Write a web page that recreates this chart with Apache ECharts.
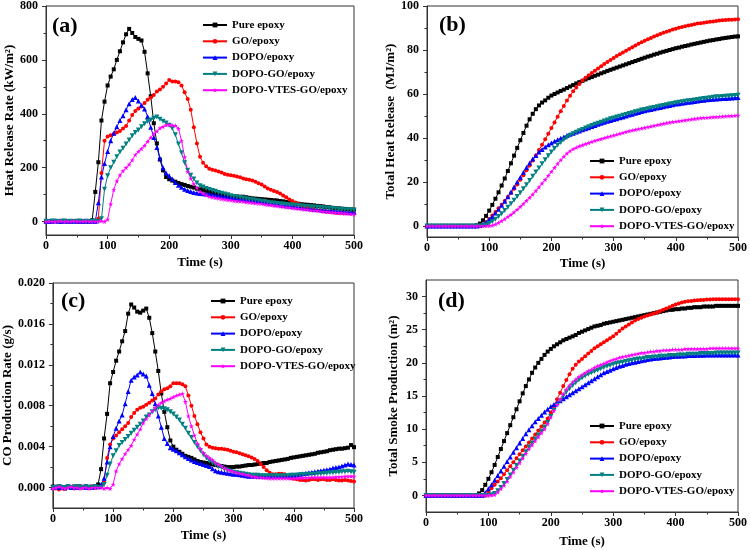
<!DOCTYPE html>
<html><head><meta charset="utf-8">
<script src="https://cdn.jsdelivr.net/npm/echarts@6/dist/echarts.min.js"></script>
<style>html,body{margin:0;padding:0;background:#fff}#c{width:750px;height:550px}</style>
</head><body><div id="c"></div>
<script>
const FONT = '"Liberation Serif","Times New Roman",serif';
const time = [0,5,10,15,20,25,30,35,40,45,50,55,60,65,70,75,80,85,90,95,
100,105,110,115,120,125,130,135,140,145,150,155,160,165,170,175,180,185,190,195,
200,205,210,215,220,225,230,235,240,245,250,255,260,265,270,275,280,285,290,295,
300,305,310,315,320,325,330,335,340,345,350,355,360,365,370,375,380,385,390,395,
400,405,410,415,420,425,430,435,440,445,450,455,460,465,470,475,480,485,490,495,500];
const seriesNames = ['Pure epoxy','GO/epoxy','DOPO/epoxy','DOPO-GO/epoxy','DOPO-VTES-GO/epoxy'];

// (a) Heat release rate, kW/m2
const hrrPure = [0,1,0,2,1,0,1,0,1,2,
0,1,0,1,2,5,110,220,375,445,
505,538,565,600,632,665,695,715,700,685,
678,672,630,550,465,365,290,230,190,165,
157,152,148,143,139,136,132,129,126,122,
120,117,114,110,106,102,100,98,96,95,
94,93,93,92,92,90,88,86,85,84,
83,82,81,80,79,78,76,75,73,71,
69,67,66,64,63,62,61,60,58,57,
56,54,53,51,50,49,48,47,46,45,44];
const hrrGO = [0,2,1,0,1,3,0,1,2,1,
0,1,2,0,1,2,1,10,180,300,
316,320,325,330,336,345,355,375,395,410,
420,427,440,452,460,470,483,490,500,512,
525,520,520,517,505,480,455,415,350,290,
240,218,205,196,192,189,186,182,176,174,
172,170,167,164,160,157,155,152,148,142,
137,130,123,118,113,110,104,97,90,82,
76,71,65,59,55,52,48,44,42,40,
38,36,35,34,33,32,32,31,31,30,30];
const hrrDOPO = [2,0,1,3,1,0,2,1,0,1,
2,0,1,2,0,1,0,70,165,215,
260,300,328,352,375,393,415,437,453,460,
447,432,418,390,350,312,275,235,200,180,
170,158,145,135,127,120,115,111,108,106,
104,103,102,101,99,98,97,95,94,92,
90,88,86,84,82,80,78,77,76,75,
73,71,70,68,66,64,62,60,59,58,
57,55,53,52,50,49,47,46,45,44,
43,42,41,40,39,38,37,36,35,35,34];
const hrrDOPOGO = [1,0,2,1,0,1,2,0,1,0,
1,2,0,1,0,2,1,0,10,120,
170,200,220,240,258,272,288,303,318,330,
340,352,363,372,377,383,388,380,372,366,
357,345,322,288,255,218,190,172,158,143,
133,128,123,119,115,112,108,105,102,99,
96,93,91,89,87,85,83,81,79,77,
75,74,72,70,69,67,66,65,63,62,
61,60,59,58,57,56,55,54,53,52,
51,50,49,48,47,46,45,44,44,43,42];
const hrrVTES = [0,1,0,0,2,1,0,1,0,2,
1,0,1,2,0,1,0,1,2,0,
8,65,118,150,172,188,200,212,228,248,
260,270,282,297,312,325,335,347,352,358,
360,357,356,345,300,240,185,160,140,125,
112,104,98,93,90,88,86,84,82,80,
79,77,76,75,74,72,71,70,68,67,
66,64,62,61,59,58,56,55,53,52,
50,49,48,46,45,44,42,41,40,39,
37,36,35,34,33,32,31,30,29,28,27];

// (b) Total heat release, MJ/m2
const thrPure = [0,0,0,0,0,0,0,0,0,0,
0,0,0,0,0,0,0.3,1.1,2.6,4.6,
7,9.6,12.4,15.3,18.4,21.6,25,28.5,32,35.5,
39,42.3,45.6,48.5,51,53.1,54.8,56.1,57.1,58.3,
59.3,60,60.7,61.4,62,62.7,63.4,64.1,64.8,65.4,
66,66.6,67.2,67.7,68.3,68.8,69.4,69.9,70.5,71,
71.5,72,72.5,73,73.5,74,74.5,75,75.5,76,
76.5,77,77.4,77.9,78.3,78.8,79.2,79.6,80,80.4,
80.8,81.1,81.5,81.8,82.1,82.5,82.8,83.1,83.4,83.7,
84,84.3,84.5,84.8,85,85.3,85.5,85.7,85.9,86.1,86.2];
const thrGO = [0,0,0,0,0,0,0,0,0,0,
0,0,0,0,0,0,0,0,0.5,1.7,
3.2,4.8,6.4,8.1,9.7,11.4,13.2,15,16.9,18.9,
21,23.1,25.3,27.5,29.8,32.1,34.5,36.9,39.4,41.9,
44.5,47.1,49.7,52.2,54.6,57,59.2,61.2,63,64.6,
66.1,67.4,68.5,69.6,70.6,71.6,72.6,73.6,74.6,75.5,
76.4,77.3,78.1,78.9,79.7,80.5,81.3,82.1,82.8,83.5,
84.2,84.9,85.5,86.1,86.7,87.3,87.8,88.3,88.8,89.3,
89.7,90.1,90.5,90.8,91.1,91.4,91.7,92,92.2,92.4,
92.6,92.8,93,93.2,93.4,93.5,93.6,93.7,93.8,93.9,94];
const thrDOPO = [0,0,0,0,0,0,0,0,0,0,
0,0,0,0,0,0,0,0.2,0.8,1.7,
2.9,4.3,5.9,7.6,9.4,11.3,13.3,15.5,17.7,20,
22.2,24.4,26.6,28.6,30.4,32.1,33.6,34.8,35.9,36.9,
37.7,38.5,39.2,39.9,40.5,41.1,41.7,42.2,42.7,43.2,
43.7,44.2,44.7,45.2,45.7,46.2,46.7,47.2,47.6,48,
48.4,48.8,49.2,49.6,50,50.4,50.8,51.2,51.6,52,
52.4,52.7,53,53.3,53.6,53.9,54.2,54.5,54.8,55.1,
55.4,55.6,55.8,56,56.2,56.4,56.6,56.8,57,57.2,
57.4,57.5,57.6,57.7,57.8,57.9,58,58.1,58.2,58.3,58.4];
const thrDOPOGO = [0,0,0,0,0,0,0,0,0,0,
0,0,0,0,0,0,0,0,0.1,0.4,
1.1,2,3.1,4.3,5.6,7,8.5,10.1,11.7,13.4,
15.1,16.9,18.8,20.7,22.6,24.5,26.4,28.3,30.1,31.9,
33.6,35.2,36.7,38,39.2,40.2,41.1,41.9,42.6,43.3,
43.9,44.5,45.1,45.7,46.2,46.7,47.2,47.7,48.2,48.7,
49.1,49.5,49.9,50.3,50.7,51.1,51.5,51.9,52.3,52.7,
53,53.3,53.6,53.9,54.2,54.5,54.8,55.1,55.4,55.7,
56,56.3,56.5,56.7,56.9,57.1,57.3,57.5,57.7,57.9,
58.1,58.3,58.5,58.7,58.8,58.9,59,59.1,59.2,59.3,59.4];
const thrVTES = [0,0,0,0,0,0,0,0,0,0,
0,0,0,0,0,0,0,0,0,0,
0.1,0.3,0.8,1.5,2.3,3.2,4.2,5.2,6.3,7.5,
8.8,10.1,11.5,12.9,14.4,16,17.7,19.4,21.1,22.9,
24.7,26.5,28.3,30,31.6,33,34.1,35,35.7,36.3,
36.8,37.3,37.8,38.3,38.8,39.2,39.6,40,40.4,40.8,
41.2,41.6,42,42.4,42.8,43.2,43.5,43.8,44.1,44.4,
44.7,45,45.3,45.6,45.9,46.2,46.5,46.8,47.1,47.3,
47.5,47.7,47.9,48.1,48.3,48.5,48.7,48.9,49.1,49.2,
49.3,49.4,49.5,49.6,49.7,49.8,49.9,50,50.1,50.2,50.3];

// (c) CO production rate, g/s
const coPure = [0.0001,0,0.0001,0,-0.0001,0.0001,0,0.0001,0,0.0001,
0,0.0001,0,0.0001,0,0.0003,0.0018,0.0048,0.0072,0.0102,
0.0113,0.0124,0.0133,0.0143,0.0153,0.017,0.0179,0.0176,0.0172,0.0171,
0.0173,0.0175,0.0166,0.0151,0.0133,0.0114,0.0092,0.0074,0.0059,0.0046,
0.004,0.0037,0.0035,0.0033,0.0031,0.003,0.0029,0.00275,0.0026,0.0025,
0.00245,0.0024,0.0023,0.00225,0.0022,0.00215,0.0021,0.00205,0.002,0.002,
0.002,0.00205,0.00205,0.0021,0.00215,0.0022,0.0022,0.00225,0.0023,0.00235,
0.0024,0.0024,0.0025,0.00255,0.0026,0.00265,0.0027,0.00275,0.0028,0.0029,
0.00295,0.003,0.00305,0.0031,0.00315,0.0032,0.00325,0.0033,0.0034,0.00345,
0.0035,0.00355,0.00365,0.0037,0.00375,0.0038,0.0038,0.00385,0.0039,0.00415,0.00395];
const coGO = [0,-0.0001,-0.0002,-0.0001,0,0.0001,0,-0.0001,0,0.0001,
0,0.0001,0,0,0.0001,0,0.0001,0.0005,0.0029,0.0042,
0.0048,0.0051,0.0054,0.0057,0.006,0.0063,0.0069,0.0073,0.0076,0.0078,
0.0079,0.0081,0.0083,0.0085,0.0087,0.0091,0.0094,0.0096,0.0097,0.0099,
0.0102,0.0102,0.0102,0.0101,0.0099,0.009,0.008,0.007,0.0062,0.0054,
0.0048,0.0042,0.004,0.0039,0.00385,0.0038,0.0038,0.00375,0.0037,0.0036,
0.0035,0.00345,0.00335,0.00325,0.00315,0.00305,0.00295,0.0028,0.0026,0.0023,
0.002,0.0017,0.00145,0.0013,0.0013,0.00135,0.00135,0.0013,0.0011,0.0009,
0.00085,0.0008,0.00075,0.00075,0.0007,0.00075,0.0008,0.0008,0.00075,0.0008,
0.0008,0.00075,0.00075,0.0008,0.00075,0.0007,0.0007,0.00075,0.0007,0.00065,0.0006];
const coDOPO = [0,0.0001,0,0.0001,0,0.0001,0,0.0001,0,0.0001,
0.0001,0,0.0001,0,0.0001,0.0001,0.0003,0.0009,0.0025,0.004,
0.005,0.0058,0.0065,0.0071,0.0082,0.0094,0.0105,0.0108,0.011,0.0113,
0.0111,0.0109,0.01,0.0092,0.0082,0.007,0.0059,0.0048,0.0043,0.0039,
0.00375,0.0036,0.0034,0.0032,0.003,0.00285,0.0027,0.00255,0.00245,0.00235,
0.00225,0.00215,0.00205,0.00185,0.00165,0.00155,0.0015,0.00145,0.0014,0.00135,
0.0013,0.0013,0.00125,0.0012,0.00115,0.0011,0.0011,0.0011,0.0011,0.0011,
0.0011,0.0011,0.0011,0.0011,0.0011,0.0011,0.0011,0.0011,0.00115,0.00115,
0.0012,0.00125,0.0013,0.00135,0.0014,0.00145,0.0015,0.00155,0.0016,0.00165,
0.0017,0.00175,0.0018,0.0019,0.00195,0.002,0.0021,0.0022,0.0023,0.00225,0.0022];
const coDOPOGO = [0,0,0.0001,0,0,0.0001,0,0,0.0001,0,
0,0.0001,0,0,0.0001,0,0,0.0003,0.0012,0.0023,
0.0031,0.0036,0.0041,0.0044,0.0047,0.005,0.0053,0.0056,0.0059,0.0062,
0.0065,0.0069,0.0071,0.0074,0.0076,0.0078,0.00775,0.0077,0.0076,0.0074,
0.0072,0.0069,0.0066,0.0062,0.0058,0.0053,0.0049,0.0044,0.004,0.0036,
0.0032,0.0029,0.0026,0.0024,0.0022,0.00205,0.00195,0.0018,0.0017,0.0016,
0.0015,0.00145,0.0014,0.00135,0.0013,0.00125,0.0012,0.0012,0.0012,0.00115,
0.00115,0.00115,0.00115,0.00115,0.00115,0.00115,0.00115,0.00115,0.00115,0.0012,
0.0012,0.0012,0.00125,0.00125,0.00125,0.0013,0.0013,0.0013,0.00135,0.00135,
0.0014,0.0014,0.00145,0.00145,0.0015,0.0015,0.00155,0.00155,0.0016,0.00155,0.0015];
const coVTES = [-0.0001,0,0.0001,0,-0.0001,0,0.0001,0,0,-0.0001,
0,0,-0.0001,0,0,0,0,-0.0001,0,-0.0001,
0.0003,0.0016,0.0023,0.0028,0.0033,0.0037,0.0041,0.0047,0.0052,0.0057,
0.0063,0.0067,0.0071,0.0075,0.0078,0.0081,0.0083,0.00845,0.0086,0.0087,
0.00885,0.009,0.0091,0.0092,0.0084,0.007,0.006,0.0051,0.0043,0.0038,
0.0034,0.0031,0.0029,0.0027,0.00245,0.00225,0.0021,0.0019,0.00175,0.00165,
0.00155,0.00145,0.0014,0.00135,0.00125,0.0012,0.0011,0.00105,0.001,0.00098,
0.00095,0.00093,0.0009,0.0009,0.0009,0.0009,0.0009,0.0009,0.0009,0.0009,
0.0009,0.00092,0.00093,0.00095,0.00097,0.00098,0.001,0.001,0.001,0.001,
0.001,0.001,0.001,0.001,0.00105,0.00105,0.00105,0.0011,0.0011,0.0011,0.0011];

// (d) Total smoke production, m2
const tspPure = [0,0,0,0,0,0,0,0,0,0,
0,0,0,0,0,0,0,0.3,0.8,1.6,
2.5,3.5,4.6,5.8,7,8.2,9.4,10.6,11.8,13,
14.2,15.4,16.5,17.5,18.5,19.3,20,20.6,21.2,21.7,
22.1,22.5,22.8,23.1,23.4,23.6,23.8,24,24.2,24.5,
24.7,24.9,25.1,25.3,25.5,25.6,25.7,25.9,26,26.1,
26.2,26.3,26.4,26.5,26.6,26.7,26.8,26.9,27,27.1,
27.2,27.3,27.4,27.5,27.6,27.7,27.8,27.9,28,28,
28.1,28.1,28.2,28.2,28.3,28.3,28.4,28.4,28.4,28.5,
28.5,28.5,28.5,28.6,28.6,28.6,28.6,28.6,28.6,28.6,28.6];
const tspGO = [0,0,0,0,0,0,0,0,0,0,
0,0,0,0,0,0,0,0,0,0,
0.6,1.1,1.6,2.1,2.6,3.2,3.8,4.4,5,5.6,
6.2,6.8,7.4,8,8.6,9.2,9.8,10.4,11,11.6,
12.5,13.5,14.5,15.5,16.5,17.4,18.3,19.1,19.7,20.2,
20.6,21,21.4,21.8,22.2,22.5,22.8,23.1,23.4,23.7,
24,24.4,24.8,25.2,25.5,25.8,26.1,26.4,26.6,26.8,
27,27.15,27.3,27.45,27.6,27.8,28,28.2,28.4,28.6,
28.8,28.95,29.1,29.2,29.3,29.35,29.4,29.45,29.5,29.5,
29.55,29.55,29.6,29.6,29.6,29.6,29.6,29.6,29.6,29.6,29.6];
const tspDOPO = [0,0,0,0,0,0,0,0,0,0,
0,0,0,0,0,0,0,0,0,0.4,
1,1.6,2.3,3,3.7,4.4,5.1,5.8,6.5,7.2,
7.9,8.6,9.3,9.9,10.5,11.1,11.6,12.1,12.6,13,
13.4,13.7,14,14.3,14.6,14.9,15.2,15.5,15.8,16.1,
16.4,16.7,17,17.3,17.6,17.9,18.2,18.5,18.7,18.9,
19.1,19.3,19.5,19.6,19.8,19.9,20,20.1,20.2,20.3,
20.4,20.5,20.6,20.65,20.7,20.75,20.8,20.85,20.9,20.95,
21,21,21.05,21.05,21.1,21.1,21.1,21.15,21.15,21.15,
21.2,21.2,21.2,21.2,21.2,21.2,21.2,21.2,21.2,21.2,21.2];
const tspDOPOGO = [0,0,0,0,0,0,0,0,0,0,
0,0,0,0,0,0,0,0,0,0,
0,0.1,0.3,0.7,1.2,1.8,2.4,3.1,3.8,4.5,
5.2,5.9,6.6,7.3,7.9,8.5,9.1,9.7,10.3,11,
11.9,12.8,13.6,14.3,15,15.6,16.1,16.6,17,17.4,
17.7,18,18.3,18.5,18.7,18.9,19.1,19.3,19.5,19.6,
19.8,19.9,20,20.1,20.2,20.3,20.4,20.5,20.6,20.6,
20.7,20.8,20.8,20.9,20.9,21,21,21,21.1,21.1,
21.1,21.2,21.2,21.2,21.3,21.3,21.3,21.3,21.4,21.4,
21.4,21.4,21.4,21.5,21.5,21.5,21.5,21.5,21.5,21.5,21.5];
const tspVTES = [0,0,0,0,0,0,0,0,0,0,
0,0,0,0,0,0,0,0,0,0,
0,0.05,0.1,0.5,1,1.5,2.1,2.8,3.5,4.2,
4.9,5.6,6.3,7,7.6,8.2,8.8,9.4,10,10.8,
11.8,12.8,13.7,14.5,15.3,16,16.6,17.1,17.5,17.9,
18.2,18.5,18.8,19,19.3,19.5,19.7,19.9,20.1,20.3,
20.5,20.6,20.8,20.9,21,21.1,21.2,21.3,21.4,21.5,
21.5,21.6,21.7,21.7,21.8,21.8,21.9,21.9,21.9,22,
22,22,22,22.1,22.1,22.1,22.1,22.1,22.1,22.1,
22.1,22.2,22.2,22.2,22.2,22.2,22.2,22.2,22.2,22.2,22.2];

// tick labels
const aLabels = [0,200,400,600,800], aMinor = [100,300,500,700];
const bLabels = [0,20,40,60,80,100], bMinor = [10,30,50,70,90];
const cLabels = [0,0.004,0.008,0.012,0.016,0.020], cMinor = [0.002,0.006,0.010,0.014,0.018];
const dLabels = [0,5,10,15,20,25,30], dMinor = [2.5,7.5,12.5,17.5,22.5,27.5];

const colors = ['#000000','#ff0000','#0000ff','#008080','#ff00ff'];
const star = 'path://M50,0 L61,35 L98,35 L68,57 L79,91 L50,70 L21,91 L32,57 L2,35 L39,35 Z';
const symbols = ['rect','circle','triangle','triangle',star];
const rotates = [0,0,0,180,0];
const sizes = [4,4,5,5,5];

const panels = [
  {grid:{left:46,top:6,width:308,height:229}, min:-50, max:800, labels:aLabels, minor:aMinor, fmt:v=>String(v),
   name:'Heat Release Rate (kW/m²)', gap:27, xgap:21, data:[hrrPure,hrrGO,hrrDOPO,hrrDOPOGO,hrrVTES],
   tag:'(a)', tagPos:[52,15], leg:[197,17]},
  {grid:{left:427,top:5,width:313,height:232}, min:-5, max:100, labels:bLabels, minor:bMinor, fmt:v=>String(v),
   name:'Total Heat Release  (MJ/m²)', gap:25, xgap:20, data:[thrPure,thrGO,thrDOPO,thrDOPOGO,thrVTES],
   tag:'(b)', tagPos:[439,14], leg:[584,153]},
  {grid:{left:51,top:283,width:303,height:225}, min:-0.002, max:0.020, labels:cLabels, minor:cMinor, fmt:v=>v.toFixed(3),
   name:'CO Production Rate (g/s)', gap:38, xgap:21, data:[coPure,coGO,coDOPO,coDOPOGO,coVTES],
   tag:'(c)', tagPos:[61,290], leg:[205,293]},
  {grid:{left:426,top:280,width:315,height:232}, min:-2.5, max:32.5, labels:dLabels, minor:dMinor, fmt:v=>String(v),
   name:'Total Smoke Production (m²)', gap:26, xgap:23, data:[tspPure,tspGO,tspDOPO,tspDOPOGO,tspVTES],
   tag:'(d)', tagPos:[438,290], leg:[584,418]}
];

const axisColor = '#333';
const option = {
  animation:false,
  backgroundColor:'#fff',
  grid:[], xAxis:[], yAxis:[], series:[], legend:[], title:[]
};
panels.forEach((p,g)=>{
  option.grid.push(Object.assign({show:true,borderColor:axisColor,borderWidth:1,backgroundColor:'transparent'},p.grid));
  option.xAxis.push({
    type:'value', gridIndex:g, min:0, max:500, interval:100,
    axisLine:{show:true,onZero:false,lineStyle:{color:axisColor,width:1}},
    axisTick:{show:true,inside:false,length:4,lineStyle:{color:axisColor}},
    minorTick:{show:true,splitNumber:2,length:2.5,lineStyle:{color:axisColor}},
    splitLine:{show:false},
    axisLabel:{fontFamily:FONT,fontWeight:'bold',fontSize:12,color:'#000',margin:5},
    name:'Time (s)', nameLocation:'middle', nameGap:p.xgap,
    nameTextStyle:{fontFamily:FONT,fontWeight:'bold',fontSize:13,color:'#000'}
  });
  option.yAxis.push({
    type:'value', gridIndex:g, min:p.min, max:p.max, position:'left',
    axisLine:{show:true,onZero:false,lineStyle:{color:axisColor,width:1}},
    axisTick:{show:true,inside:false,length:4,customValues:p.labels,lineStyle:{color:axisColor}},
    axisLabel:{customValues:p.labels,formatter:p.fmt,fontFamily:FONT,fontWeight:'bold',fontSize:12,color:'#000',margin:8},
    splitLine:{show:false},
    name:p.name, nameLocation:'middle', nameGap:p.gap, nameRotate:90,
    nameTextStyle:{fontFamily:FONT,fontWeight:'bold',fontSize:13,color:'#000'}
  });
  option.yAxis.push({
    type:'value', gridIndex:g, min:p.min, max:p.max, position:'left', offset:0,
    axisLine:{show:false},
    axisTick:{show:true,inside:false,length:2.5,customValues:p.minor,lineStyle:{color:axisColor}},
    axisLabel:{show:false}, splitLine:{show:false}
  });
  p.data.forEach((arr,k)=>{
    option.series.push({
      name:seriesNames[k], type:'line', xAxisIndex:g, yAxisIndex:g*2,
      data:time.map((t,i)=>[t,arr[i]]),
      symbol:symbols[k], symbolRotate:rotates[k], symbolSize:sizes[k],
      showSymbol:true, showAllSymbol:true,
      lineStyle:{color:colors[k],width:1}, itemStyle:{color:colors[k]},
      emphasis:{disabled:true}
    });
  });
  option.legend.push({
    orient:'vertical', left:p.leg[0], top:p.leg[1]-3, itemWidth:24, itemHeight:6, itemGap:4.3,
    textStyle:{fontFamily:FONT,fontWeight:'bold',fontSize:11,color:'#000',lineHeight:12},
    data:seriesNames, selectedMode:false
  });
  option.title.push({
    text:p.tag, left:p.tagPos[0], top:p.tagPos[1], padding:0,
    textStyle:{fontFamily:FONT,fontWeight:'bold',fontSize:22,color:'#000'}
  });
});
const chart = echarts.init(document.getElementById('c'), null, {renderer:'canvas'});
chart.setOption(option);
</script>
</body></html>
